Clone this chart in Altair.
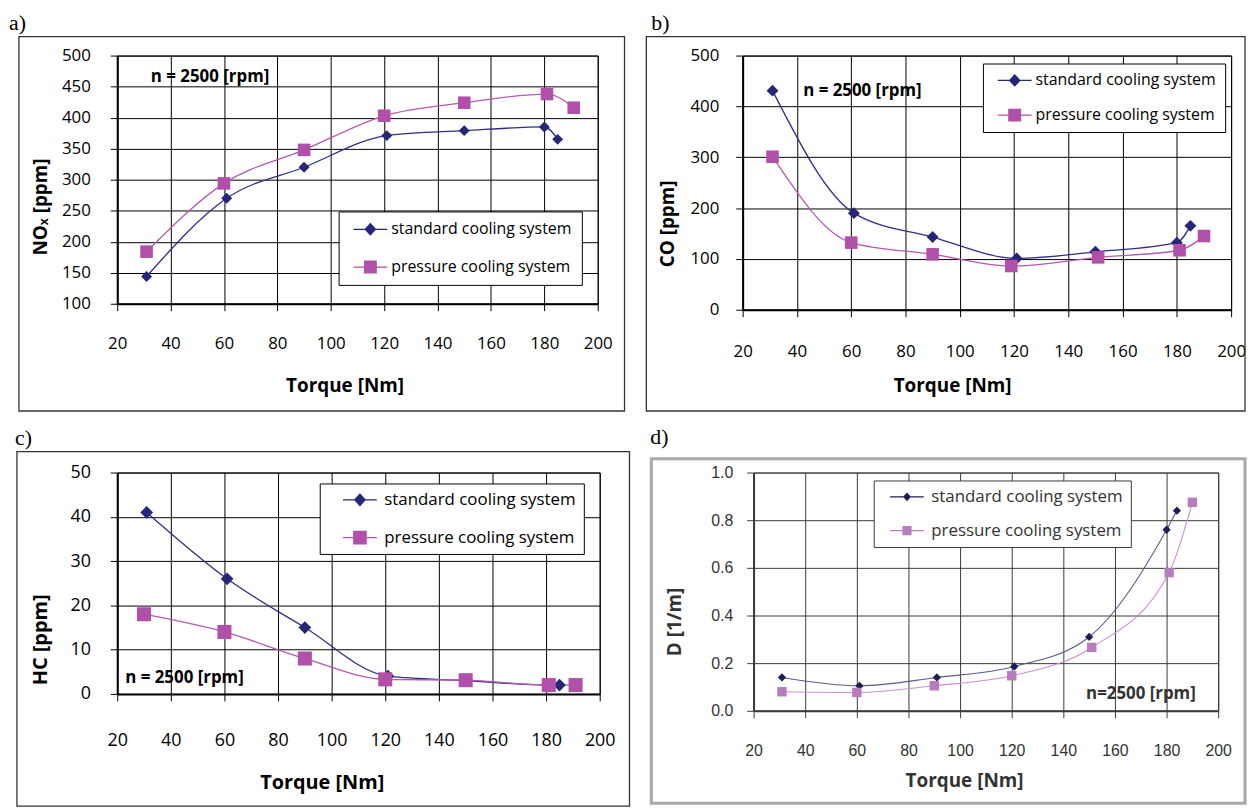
import altair as alt
import pandas as pd

SERIES = ["standard cooling system", "pressure cooling system"]
X_TICKS = [20, 40, 60, 80, 100, 120, 140, 160, 180, 200]

# a) NOx
a_std_torque = [31, 61, 90, 121, 150, 180, 185]
a_std_value = [144, 270, 320, 371, 379, 385, 365]
a_prs_torque = [31, 60, 90, 120, 150, 181, 191]
a_prs_value = [184, 294, 348, 403, 424, 438, 416]
a_y_ticks = [100, 150, 200, 250, 300, 350, 400, 450, 500]

# b) CO
b_std_torque = [31, 61, 90, 121, 150, 180, 185]
b_std_value = [431, 190, 143, 101, 114, 132, 165]
b_prs_torque = [31, 60, 90, 119, 151, 181, 190]
b_prs_value = [301, 132, 109, 86, 103, 117, 145]
b_y_ticks = [0, 100, 200, 300, 400, 500]

# c) HC
c_std_torque = [31, 61, 90, 121, 150, 181, 185]
c_std_value = [41, 26, 15, 4, 3, 2, 2]
c_prs_torque = [30, 60, 90, 120, 150, 181, 191]
c_prs_value = [18, 14, 8, 3.3, 3.1, 2, 2]
c_y_ticks = [0, 10, 20, 30, 40, 50]

# d) smoke opacity
d_std_torque = [31, 61, 91, 121, 150, 180, 184]
d_std_value = [0.14, 0.105, 0.14, 0.186, 0.31, 0.76, 0.84]
d_prs_torque = [31, 60, 90, 120, 151, 181, 190]
d_prs_value = [0.08, 0.077, 0.105, 0.147, 0.266, 0.58, 0.875]
d_y_ticks = [0.0, 0.2, 0.4, 0.6, 0.8, 1.0]

SANS = "Open Sans, sans-serif"
COND = "Liberation Sans Narrow, Open Sans, sans-serif"
ARIAL = "Liberation Sans, Arial, sans-serif"
SERIF = "Liberation Serif, Times New Roman, serif"

LINE_PATH = "M-2.43,-0.09H2.43V0.09H-2.43Z"


def sym_paths(dh, sh):
    diamond = f"M0,-{dh}L{dh*0.92:.2f},0L0,{dh}L-{dh*0.92:.2f},0Z"
    square = f"M-{sh},-{sh}H{sh}V{sh}H-{sh}Z"
    return [LINE_PATH + " " + diamond, LINE_PATH + " " + square]


panels = [
    dict(letter="a)", std_t=a_std_torque, std_v=a_std_value, prs_t=a_prs_torque, prs_v=a_prs_value,
         ydom=[100, 500], yticks=a_y_ticks, yfmt="d", ytitle="NOₓ [ppm]", W=484, H=250,
         frame=(-99, 511, -19, 358), fcol="#333333", fw=1.3, let=(-109, -26),
         ytx=-77, yty=152, xtx=229, xty=82, ylp=20, xlp=25,
         ann=(32.6, 466, "n = 2500 [rpm]"), annfont=COND, annsize=17,
         cols=["#262678", "#B050A8"], lcols=["#2E2E8A", "#B45AB0"], lw=1.3,
         dsize=121, ssize=160, paths=sym_paths(0.93, 0.93),
         leg=dict(x=223, y=157, p=10, so=14, lo=13, rp=22, font=SANS, fs=16),
         font=SANS, fs=17, tfont=COND, tfs=19, tc="black", gc="black"),
    dict(letter="b)", std_t=b_std_torque, std_v=b_std_value, prs_t=b_prs_torque, prs_v=b_prs_value,
         ydom=[0, 500], yticks=b_y_ticks, yfmt="d", ytitle="CO [ppm]", W=492, H=256,
         frame=(-97, 506, -19, 358), fcol="#333333", fw=1.3, let=(-92, -26),
         ytx=-76, yty=169, xtx=211, xty=76, ylp=17, xlp=27,
         ann=(42.3, 430, "n = 2500 [rpm]"), annfont=COND, annsize=17,
         cols=["#262678", "#B050A8"], lcols=["#2E2E8A", "#B45AB0"], lw=1.3,
         dsize=144, ssize=160, paths=sym_paths(0.93, 0.93),
         leg=dict(x=242, y=8, p=9, so=15, lo=13, rp=19, font=SANS, fs=16),
         font=SANS, fs=17, tfont=COND, tfs=19, tc="black", gc="black"),
    dict(letter="c)", std_t=c_std_torque, std_v=c_std_value, prs_t=c_prs_torque, prs_v=c_prs_value,
         ydom=[0, 50], yticks=c_y_ticks, yfmt="d", ytitle="HC [ppm]", W=486, H=223,
         frame=(-101, 516, -21, 336), fcol="#333333", fw=1.3, let=(-103, -28),
         ytx=-77, yty=168, xtx=206, xty=89, ylp=20, xlp=31,
         ann=(23, 3.6, "n = 2500 [rpm]"), annfont=COND, annsize=17,
         cols=["#262678", "#B050A8"], lcols=["#2E2E8A", "#B45AB0"], lw=1.3,
         dsize=165, ssize=200, paths=sym_paths(0.95, 0.98),
         leg=dict(x=204, y=11, p=8, so=24, lo=16, rp=20, font=SANS, fs=17),
         font=SANS, fs=18, tfont=COND, tfs=20, tc="black", gc="black"),
    dict(letter="d)", std_t=d_std_torque, std_v=d_std_value, prs_t=d_prs_torque, prs_v=d_prs_value,
         ydom=[0, 1.0], yticks=d_y_ticks, yfmt=".1f", ytitle="D [1/m]", W=468, H=240,
         frame=(-103, 495, -14, 333), fcol="#A8A8A8", fw=3, let=(-104, -29),
         ytx=-80, yty=150, xtx=212, xty=70, ylp=14, xlp=25,
         ann=(148.8, 0.07, "n=2500 [rpm]"), annfont=COND, annsize=17,
         cols=["#1E1E55", "#B77CBC"], lcols=["#5A5A8E", "#C890CC"], lw=1.1,
         dsize=70, ssize=90, paths=sym_paths(0.62, 0.66),
         leg=dict(x=121, y=8, p=8, so=17, lo=16, rp=16, font=COND, fs=17),
         font=ARIAL, fs=16, tfont=COND, tfs=19, tc="#333333", gc="#3a3a3a"),
]


def make_panel(p):
    n1, n2 = len(p["std_t"]), len(p["prs_t"])
    df = pd.DataFrame({
        "torque": p["std_t"] + p["prs_t"],
        "value": p["std_v"] + p["prs_v"],
        "series": [SERIES[0]] * n1 + [SERIES[1]] * n2,
    })
    xenc = alt.X(
        "torque:Q",
        scale=alt.Scale(domain=[20, 200], nice=False, zero=False),
        axis=alt.Axis(
            values=X_TICKS, format="d", grid=True, gridColor=p["gc"], gridWidth=1, gridOpacity=1,
            domainColor=p["gc"], domainWidth=2, tickColor=p["gc"], tickSize=7, tickWidth=1,
            labelFont=p["font"], labelFontSize=p["fs"], labelColor=p["tc"], labelPadding=p["xlp"],
            labelFlush=False, labelOverlap=False,
            title="Torque [Nm]", titleFont=p["tfont"], titleFontSize=p["tfs"], titleFontWeight="bold",
            titleColor=p["tc"], titleX=p["xtx"], titleY=p["xty"], titleAlign="center",
            titleBaseline="middle",
        ),
    )
    yenc = alt.Y(
        "value:Q",
        scale=alt.Scale(domain=p["ydom"], nice=False, zero=False),
        axis=alt.Axis(
            values=p["yticks"], format=p["yfmt"], grid=True, gridColor=p["gc"], gridWidth=1, gridOpacity=1,
            domainColor=p["gc"], domainWidth=2, tickColor=p["gc"], tickSize=7, tickWidth=1,
            labelFont=p["font"], labelFontSize=p["fs"], labelColor=p["tc"], labelPadding=p["ylp"],
            labelFlush=False, labelOverlap=False,
            title=p["ytitle"], titleFont=p["tfont"], titleFontSize=p["tfs"], titleFontWeight="bold",
            titleColor=p["tc"], titleX=p["ytx"], titleY=p["yty"], titleAngle=270, titleAlign="center",
            titleBaseline="middle",
        ),
    )
    one = pd.DataFrame({"k": [0]})
    fx1, fx2, fy1, fy2 = p["frame"]
    frame = alt.Chart(one).mark_rect(fillOpacity=0, stroke=p["fcol"], strokeWidth=p["fw"]).encode(
        x=alt.value(fx1), x2=alt.value(fx2), y=alt.value(fy1), y2=alt.value(fy2)
    )
    letter = alt.Chart(one).mark_text(
        text=p["letter"], font=SERIF, fontSize=22, align="left", baseline="alphabetic", color="black"
    ).encode(x=alt.value(p["let"][0]), y=alt.value(p["let"][1]))

    base = alt.Chart(df)
    layers = [frame, letter]
    for s, lc in zip(SERIES, p["lcols"]):
        layers.append(
            base.transform_filter(alt.datum.series == s)
            .mark_line(color=lc, strokeWidth=p["lw"], interpolate="monotone")
            .encode(x=xenc, y=yenc)
        )
    for s, c, shp, sz in zip(SERIES, p["cols"], ["diamond", "square"], [p["dsize"], p["ssize"]]):
        layers.append(
            base.transform_filter(alt.datum.series == s)
            .mark_point(shape=shp, filled=True, size=sz, color=c, opacity=1)
            .encode(x=xenc, y=yenc)
        )
    ax, ay, atxt = p["ann"]
    ann_df = pd.DataFrame({"torque": [ax], "value": [ay], "label": [atxt]})
    layers.append(
        alt.Chart(ann_df).mark_text(
            align="left", baseline="middle", font=p["annfont"], fontSize=p["annsize"],
            fontWeight="bold", color=p["tc"]
        ).encode(x=xenc, y=yenc, text="label:N")
    )
    lg = p["leg"]
    leg = alt.Legend(
        orient="none", legendX=lg["x"], legendY=lg["y"], title=None,
        strokeColor=p["gc"], fillColor="white", padding=lg["p"],
        symbolSize=196, symbolOffset=lg["so"], labelOffset=lg["lo"], rowPadding=lg["rp"],
        labelFont=lg["font"], labelFontSize=lg["fs"], labelColor=p["tc"], labelLimit=400,
        symbolOpacity=1, symbolStrokeWidth=0,
    )
    layers.append(
        base.mark_point(filled=True, opacity=0).encode(
            x=xenc, y=yenc,
            color=alt.Color("series:N", scale=alt.Scale(domain=SERIES, range=p["cols"]), legend=leg),
            shape=alt.Shape("series:N", scale=alt.Scale(domain=SERIES, range=p["paths"]), legend=leg),
        )
    )
    return alt.layer(*layers).properties(
        width=p["W"], height=p["H"],
        view=alt.ViewBackground(stroke=p["gc"], strokeWidth=1, fill="white"),
    )


pa, pb, pc, pd_ = [make_panel(p) for p in panels]

row1 = alt.hconcat(pa, pb, spacing=18).resolve_scale(color="independent", shape="independent")
row2 = alt.hconcat(pc, pd_, spacing=18).resolve_scale(color="independent", shape="independent")
chart = (
    alt.vconcat(row1, row2, spacing=12)
    .resolve_scale(color="independent", shape="independent")
    .properties(padding=0, background="white")
)

chart.save("out.html", embed_options={"renderer": "svg", "actions": False})
